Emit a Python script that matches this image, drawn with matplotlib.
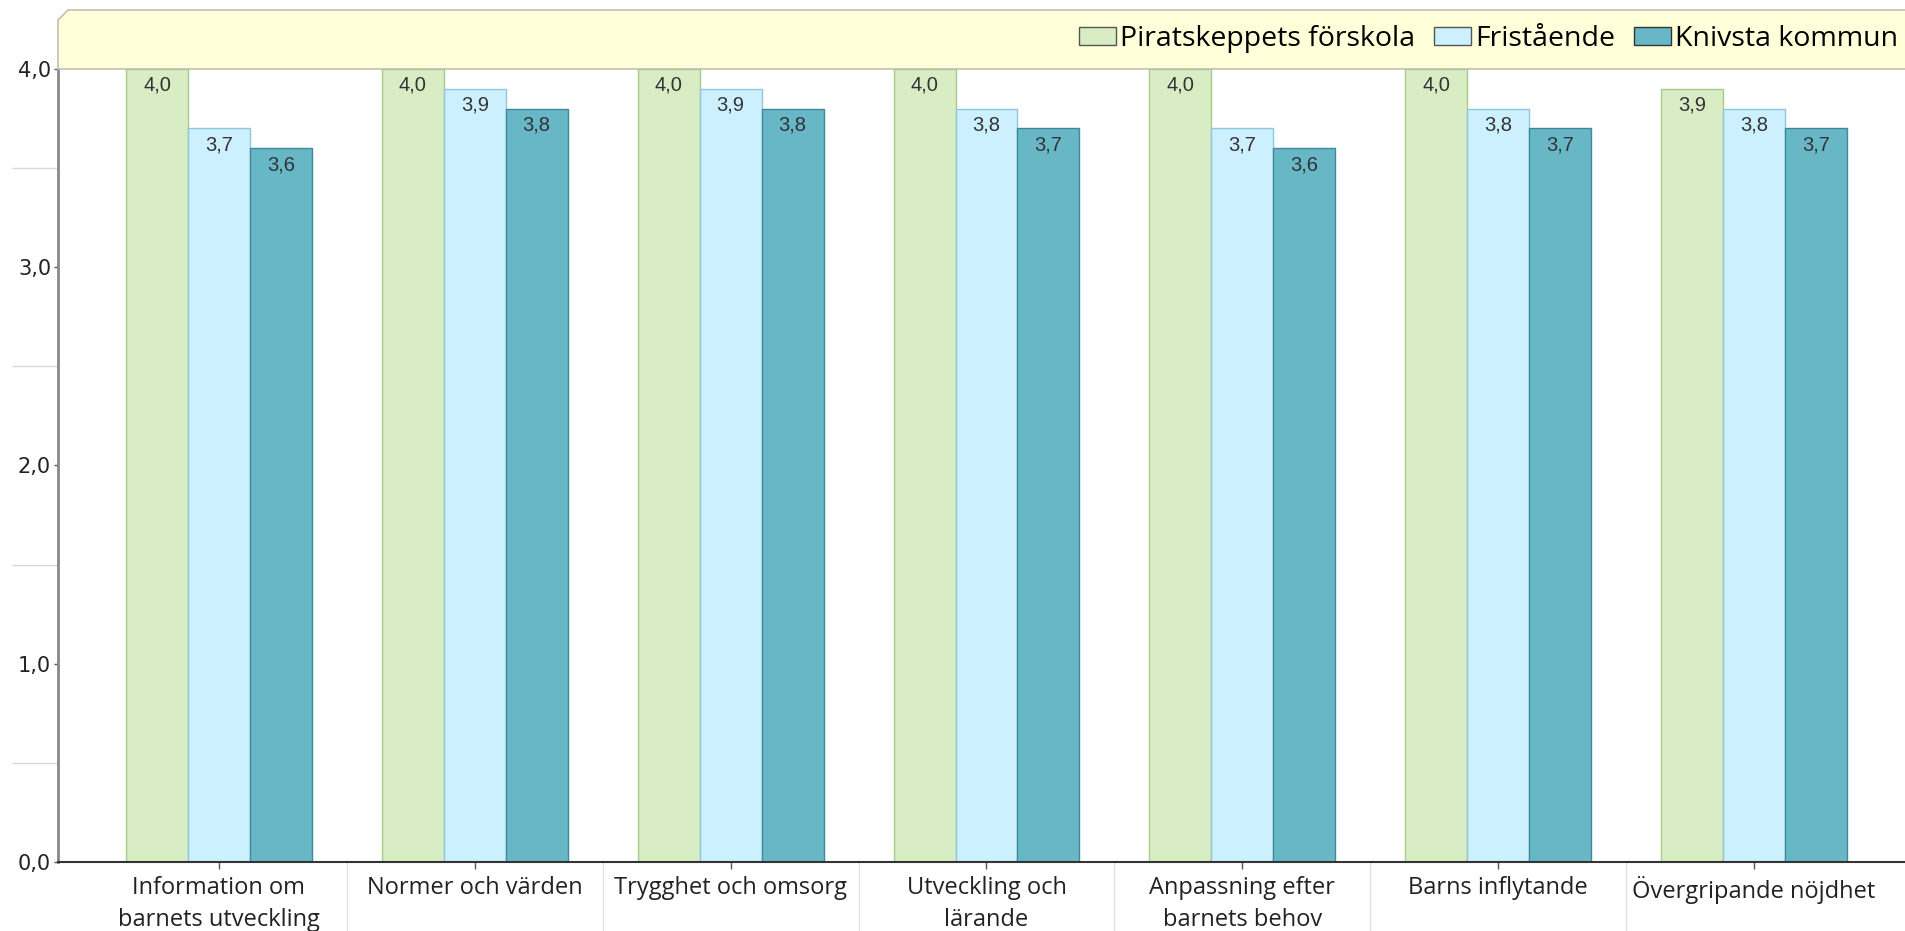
import numpy as np
import matplotlib.pyplot as plt
from matplotlib.patches import Patch, Polygon

# data
categories = ["Information om\nbarnets utveckling", "Normer och värden", "Trygghet och omsorg",
              "Utveckling och\nlärande", "Anpassning efter\nbarnets behov", "Barns inflytande",
              "Övergripande nöjdhet"]
series_names = ["Piratskeppets förskola", "Fristående", "Knivsta kommun"]
pirat = [4.0, 4.0, 4.0, 4.0, 4.0, 4.0, 3.9]
fristaende = [3.7, 3.9, 3.9, 3.8, 3.7, 3.8, 3.8]
knivsta = [3.6, 3.8, 3.8, 3.7, 3.6, 3.7, 3.7]

face = ["#d9edc4", "#ccf0fe", "#67b7c6"]
edge = ["#a6c98c", "#8ec7dc", "#3e8a99"]

W, H = 1906, 931
fig = plt.figure(figsize=(W / 100, H / 100), dpi=100)
ax = fig.add_axes([58 / W, 1 - 862 / H, 1 - 58 / W, (862 - 69) / H])

x = np.arange(len(categories))
bw = 0.242
for k, vals in enumerate([pirat, fristaende, knivsta]):
    pos = x + (k - 1) * bw
    ax.bar(pos, vals, width=bw, color=face[k], edgecolor=edge[k], linewidth=1, zorder=2)
    for px, v in zip(pos, vals):
        ax.annotate(f"{v:.1f}".replace(".", ","), (px, v), xytext=(0, -5),
                    textcoords="offset points", ha="center", va="top",
                    fontsize=14.5, fontfamily="Liberation Sans", color="#333333", zorder=3)

ax.set_xlim(-0.629, 6.594)
ax.set_ylim(0, 4)

ax.set_yticks([0, 1, 2, 3, 4])
ax.set_yticklabels(["0,0", "1,0", "2,0", "3,0", "4,0"])
ax.set_yticks([0.5, 1.5, 2.5, 3.5], minor=True)
ax.tick_params(axis="y", which="major", length=3, width=1, color="#555555",
               labelsize=15, labelcolor="#222222", pad=2)
ax.tick_params(axis="y", which="minor", length=33, width=1, color="#d8d8d8")

ax.set_xticks(x)
ax.set_xticklabels(categories, fontfamily="Open Sans", fontsize=17, color="#222222",
                   linespacing=1.45)
ax.set_xticks(x[:-1] + 0.5, minor=True)
ax.tick_params(axis="x", which="major", length=5, width=1, color="#555555", pad=5)
ax.tick_params(axis="x", which="minor", length=52, width=1, color="#e0e0e0")

for s in ["top", "right"]:
    ax.spines[s].set_visible(False)
ax.spines["left"].set_color("#888888")
ax.spines["left"].set_linewidth(2)
ax.spines["bottom"].set_color("#333333")
ax.spines["bottom"].set_linewidth(1.5)

# yellow legend band above the plot
pts = [(58, 69), (58, 20), (68, 10), (W, 10), (W, 69)]
band = Polygon([(px / W, 1 - py / H) for px, py in pts], closed=True,
               transform=fig.transFigure, facecolor="#ffffda", edgecolor="#c0c0b0",
               linewidth=1.2, zorder=0)
fig.patches.append(band)

leg_edge = ["#555555", "#555555", "#333333"]
handles = [Patch(facecolor=face[k], edgecolor=leg_edge[k], label=series_names[k])
           for k in range(3)]
fig.legend(handles=handles, loc="center right", bbox_to_anchor=(1898 / W, 1 - 39 / H),
           ncol=3, frameon=False, prop={"family": "Open Sans", "size": 20.5},
           handlelength=1.3, handleheight=0.55, handletextpad=0.15, columnspacing=0.65,
           borderpad=0, borderaxespad=0)

fig.savefig("out.png", dpi=100)
